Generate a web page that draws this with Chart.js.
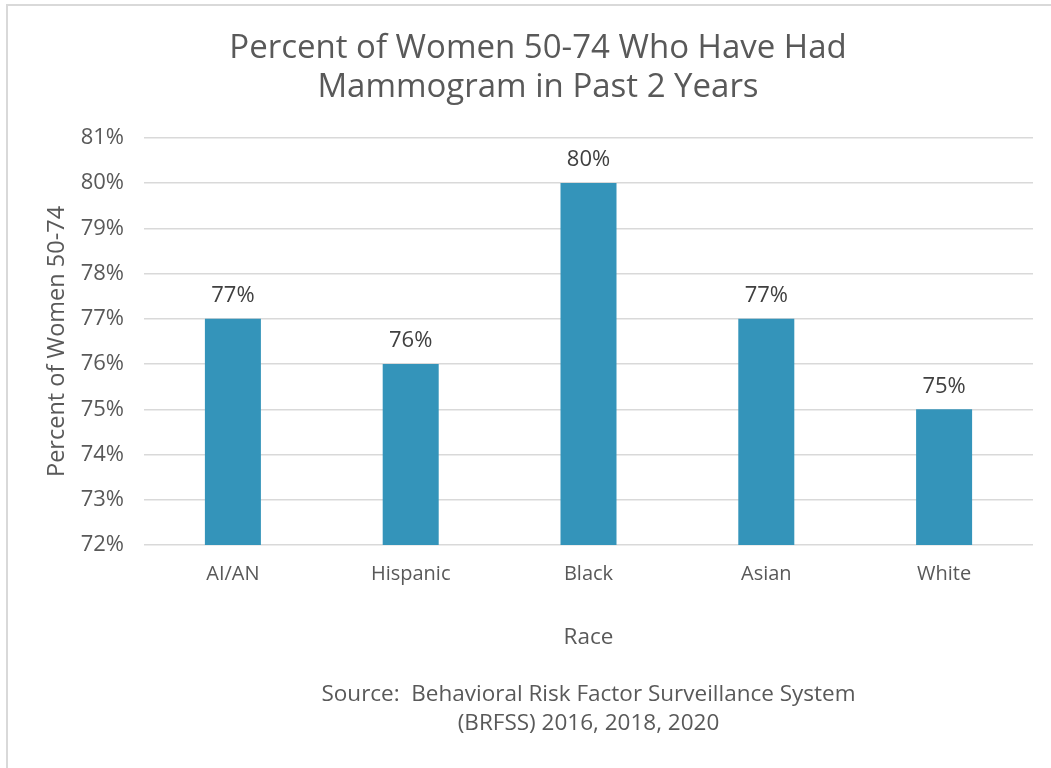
<!DOCTYPE html>
<html>
<head>
<meta charset="utf-8">
<script src="https://cdn.jsdelivr.net/npm/chart.js@4/dist/chart.umd.min.js"></script>
<style>
  html, body { margin: 0; padding: 0; background: #fff; overflow: hidden; }
  #frame {
    position: absolute; left: 6px; top: 4px;
    width: 1060px; height: 800px;
    border-left: 2px solid #d9d9d9; border-top: 2px solid #d9d9d9;
  }
  #frame canvas { display: block; }
</style>
</head>
<body>
<div id="frame"><canvas id="mammoChart" width="1060" height="764"></canvas></div>
<script>
// Chart data
const categories = ['AI/AN', 'Hispanic', 'Black', 'Asian', 'White'];
const percentValues = [77, 76, 80, 77, 75];
const yTicks = [72, 73, 74, 75, 76, 77, 78, 79, 80, 81];
const titleLines = ['Percent of Women 50-74 Who Have Had', 'Mammogram in Past 2 Years'];
const xTitleLines = ['Race', '', 'Source:  Behavioral Risk Factor Surveillance System', '(BRFSS) 2016, 2018, 2020'];
const yTitle = 'Percent of Women 50-74';

const FONT = "'Open Sans', sans-serif";
const TEXT = '#595959';

// simple data labels above bars
const barLabels = {
  id: 'barLabels',
  afterDatasetsDraw(chart) {
    const { ctx } = chart;
    const meta = chart.getDatasetMeta(0);
    ctx.save();
    ctx.font = '22px ' + FONT;
    ctx.fillStyle = '#404040';
    ctx.textAlign = 'center';
    ctx.textBaseline = 'middle';
    meta.data.forEach((bar, i) => {
      ctx.fillText(chart.data.datasets[0].data[i] + '%', bar.x, bar.y - 23);
    });
    ctx.restore();
  }
};

new Chart(document.getElementById('mammoChart'), {
  type: 'bar',
  data: {
    labels: categories,
    datasets: [{ data: percentValues, backgroundColor: '#3494ba', categoryPercentage: 1, barPercentage: 0.315 }]
  },
  options: {
    responsive: false,
    animation: false,
    layout: { padding: 0 },
    plugins: {
      legend: { display: false },
      tooltip: { enabled: false },
      title: {
        display: true,
        text: titleLines,
        color: TEXT,
        font: { family: FONT, size: 33, weight: 'normal', lineHeight: 1.18 },
        padding: { top: 23.5, bottom: 30.5 }
      }
    },
    scales: {
      y: {
        min: 72, max: 81,
        afterFit(scale) { scale.width = 136; },
        afterBuildTicks(scale) { scale.ticks = yTicks.map(v => ({ value: v })); },
        ticks: { color: TEXT, font: { family: FONT, size: 22 }, padding: 20, callback: v => v + '%' },
        grid: { color: '#d9d9d9', lineWidth: 1.5, drawTicks: false },
        border: { display: false },
        title: { display: true, text: yTitle, color: TEXT, font: { family: FONT, size: 23.5, lineHeight: 1.2 }, padding: { top: 35 } }
      },
      // empty right axis keeps space on the right so the title stays centred on the frame
      spacer: {
        position: 'right',
        afterFit(scale) { scale.width = 35; },
        ticks: { display: false },
        grid: { display: false },
        border: { display: false }
      },
      x: {
        afterFit(scale) { scale.height = 225; },
        ticks: { color: TEXT, font: { family: FONT, size: 20 }, padding: 9 },
        grid: { display: false },
        border: { display: false },
        title: { display: true, text: xTitleLines, color: TEXT, font: { family: FONT, size: 22.5, lineHeight: 1.27 }, padding: { bottom: 32.5 } }
      }
    }
  },
  plugins: [barLabels]
});
</script>
</body>
</html>
